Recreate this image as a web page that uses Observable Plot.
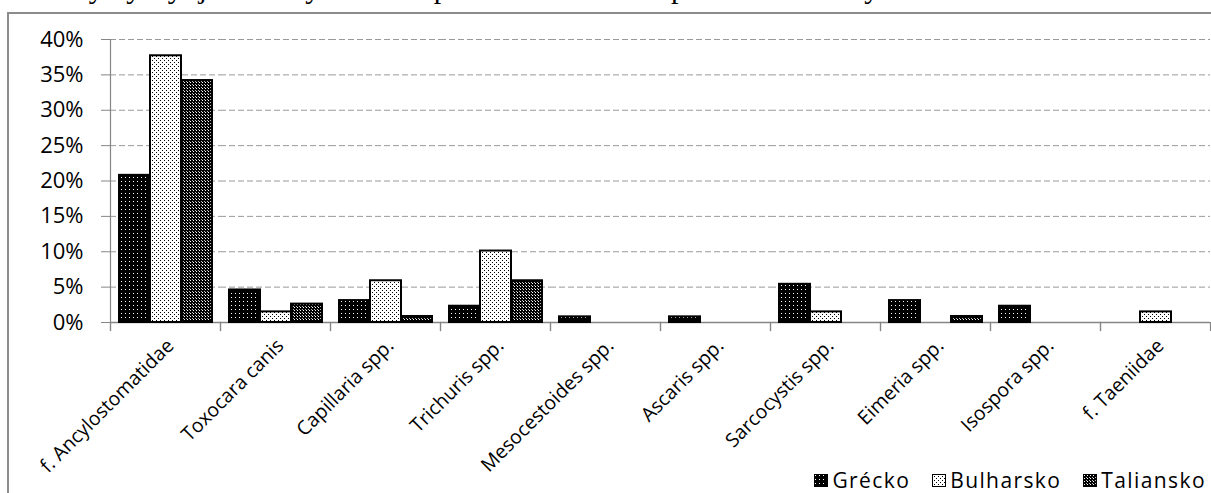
<!DOCTYPE html>
<html>
<head>
<meta charset="utf-8">
<script src="https://cdn.jsdelivr.net/npm/d3@7"></script>
<script src="https://cdn.jsdelivr.net/npm/@observablehq/plot@0.6"></script>
<style>
  html, body { margin: 0; padding: 0; }
  body { width: 1211px; height: 493px; overflow: hidden; background: #fff; position: relative; font-family: "Open Sans", sans-serif; }
  #title { position: absolute; left: 2px; top: -29px; font: 30px "Liberation Serif", serif; white-space: nowrap; color: #000; }
  #frame { position: absolute; left: 7px; top: 12px; width: 1240px; height: 520px; border: 2px solid #8c8c8c; box-sizing: border-box; }
  #chart { position: absolute; left: 0; top: 0; }
  #legend { position: absolute; right: 5px; top: 467px; display: flex; gap: 22px; font-size: 21px; letter-spacing: 1.4px; line-height: 26px; color: #000; }
  #legend span.item { display: flex; align-items: center; gap: 4px; }
  #legend svg { display: block; }
</style>
</head>
<body>
<svg width="0" height="0" style="position:absolute">
  <defs>
    <!-- black ground with a grid of white dots -->
    <pattern id="pat-gr" width="4" height="4" patternUnits="userSpaceOnUse">
      <rect width="4" height="4" fill="#000"/>
      <rect x="1" y="1" width="1" height="1" fill="#fff"/>
    </pattern>
    <!-- white ground with scattered black dots -->
    <pattern id="pat-bg" width="4" height="4" patternUnits="userSpaceOnUse">
      <rect width="4" height="4" fill="#fff"/>
      <rect x="0" y="0" width="1" height="1" fill="#000"/>
      <rect x="2" y="2" width="1" height="1" fill="#000"/>
    </pattern>
    <!-- dark checkerboard -->
    <pattern id="pat-it" width="3" height="3" patternUnits="userSpaceOnUse">
      <rect width="3" height="3" fill="#000"/>
      <rect x="1" y="1" width="1" height="1" fill="#fff"/>
      <rect x="0" y="0" width="1" height="1" fill="#bbb"/>
    </pattern>
  </defs>
</svg>
<div id="title">Celkový výskyt jednotlivých rodov parazitov v trusoch psov v sledovaných štátoch</div>
<div id="frame"></div>
<div id="chart"></div>
<div id="legend"></div>
<script>
// Parasite genera / families found in dog faeces
const categories = [
  "f. Ancylostomatidae", "Toxocara canis", "Capillaria spp.", "Trichuris spp.",
  "Mesocestoides spp.", "Ascaris spp.", "Sarcocystis spp.", "Eimeria spp.",
  "Isospora spp.", "f. Taeniidae"
];
const series = ["Grécko", "Bulharsko", "Taliansko"];

// Prevalence in percent, one value per category
const grecko    = [20.8, 4.6, 3.1, 2.3, 0.8, 0.8, 5.4, 3.1, 2.3, 0];
const bulharsko = [37.7, 1.5, 5.9, 10.1, 0, 0, 1.5, 0, 0, 1.5];
const taliansko = [34.2, 2.6, 0.85, 5.9, 0, 0, 0, 0.85, 0, 0];

const yTicks = [0, 5, 10, 15, 20, 25, 30, 35, 40];
const patterns = ["url(#pat-gr)", "url(#pat-bg)", "url(#pat-it)"];

const columns = [grecko, bulharsko, taliansko];
const rows = categories.flatMap((category, i) =>
  series.map((s, j) => ({ category, series: s, value: columns[j][i] }))
);

const axisGray = "#868686";

const chart = Plot.plot({
  width: 1211,
  height: 493,
  marginLeft: 110,
  marginRight: 1,
  marginTop: 39,
  marginBottom: 171,
  style: { fontFamily: '"Open Sans", sans-serif', color: "#000", background: "transparent", overflow: "visible" },
  fx: { domain: categories, padding: 0, label: null },
  x: { domain: series, paddingInner: 0, paddingOuter: 0.22, axis: null },
  y: { domain: [0, 40], label: null },
  color: { domain: series, range: patterns },
  marks: [
    Plot.gridY(yTicks.slice(1), { stroke: "#9a9a9a", strokeOpacity: 1, strokeDasharray: "6,3" }),
    Plot.axisY(yTicks, {
      tickFormat: d => `${d}%`, tickSize: 9, tickPadding: 18,
      stroke: axisGray, fill: "#000", fontSize: 22, label: null
    }),
    Plot.axisFx({
      anchor: "bottom", tickSize: 0, tickRotate: -45, tickPadding: 20, dx: 5,
      fontSize: 19.5, label: null
    }),
    // y axis line
    Plot.frame({ anchor: "left", stroke: axisGray, strokeWidth: 1.2, insetBottom: -8, fx: () => categories[0] }),
    // category boundary ticks
    Plot.frame({ anchor: "left", stroke: axisGray, strokeWidth: 1.2, insetTop: 283, insetBottom: -8 }),
    Plot.frame({ anchor: "right", stroke: axisGray, strokeWidth: 1.2, insetTop: 283, insetBottom: -8 }),
    Plot.ruleY([0], { stroke: axisGray, strokeWidth: 1.5 }),
    Plot.barY(rows, {
      filter: d => d.value > 0,
      fx: "category", x: "series", y: "value",
      fill: "series", stroke: "#000", strokeWidth: 2
    })
  ]
});
document.getElementById("chart").append(chart);

// legend
const legend = d3.select("#legend");
series.forEach((s, i) => {
  const item = legend.append("span").attr("class", "item");
  const sw = item.append("svg").attr("width", 14).attr("height", 13);
  sw.append("rect").attr("x", 0.5).attr("y", 0.5).attr("width", 13).attr("height", 12)
    .attr("fill", patterns[i]).attr("stroke", "#000").attr("stroke-width", 1);
  item.append("span").text(s);
});
</script>
</body>
</html>
